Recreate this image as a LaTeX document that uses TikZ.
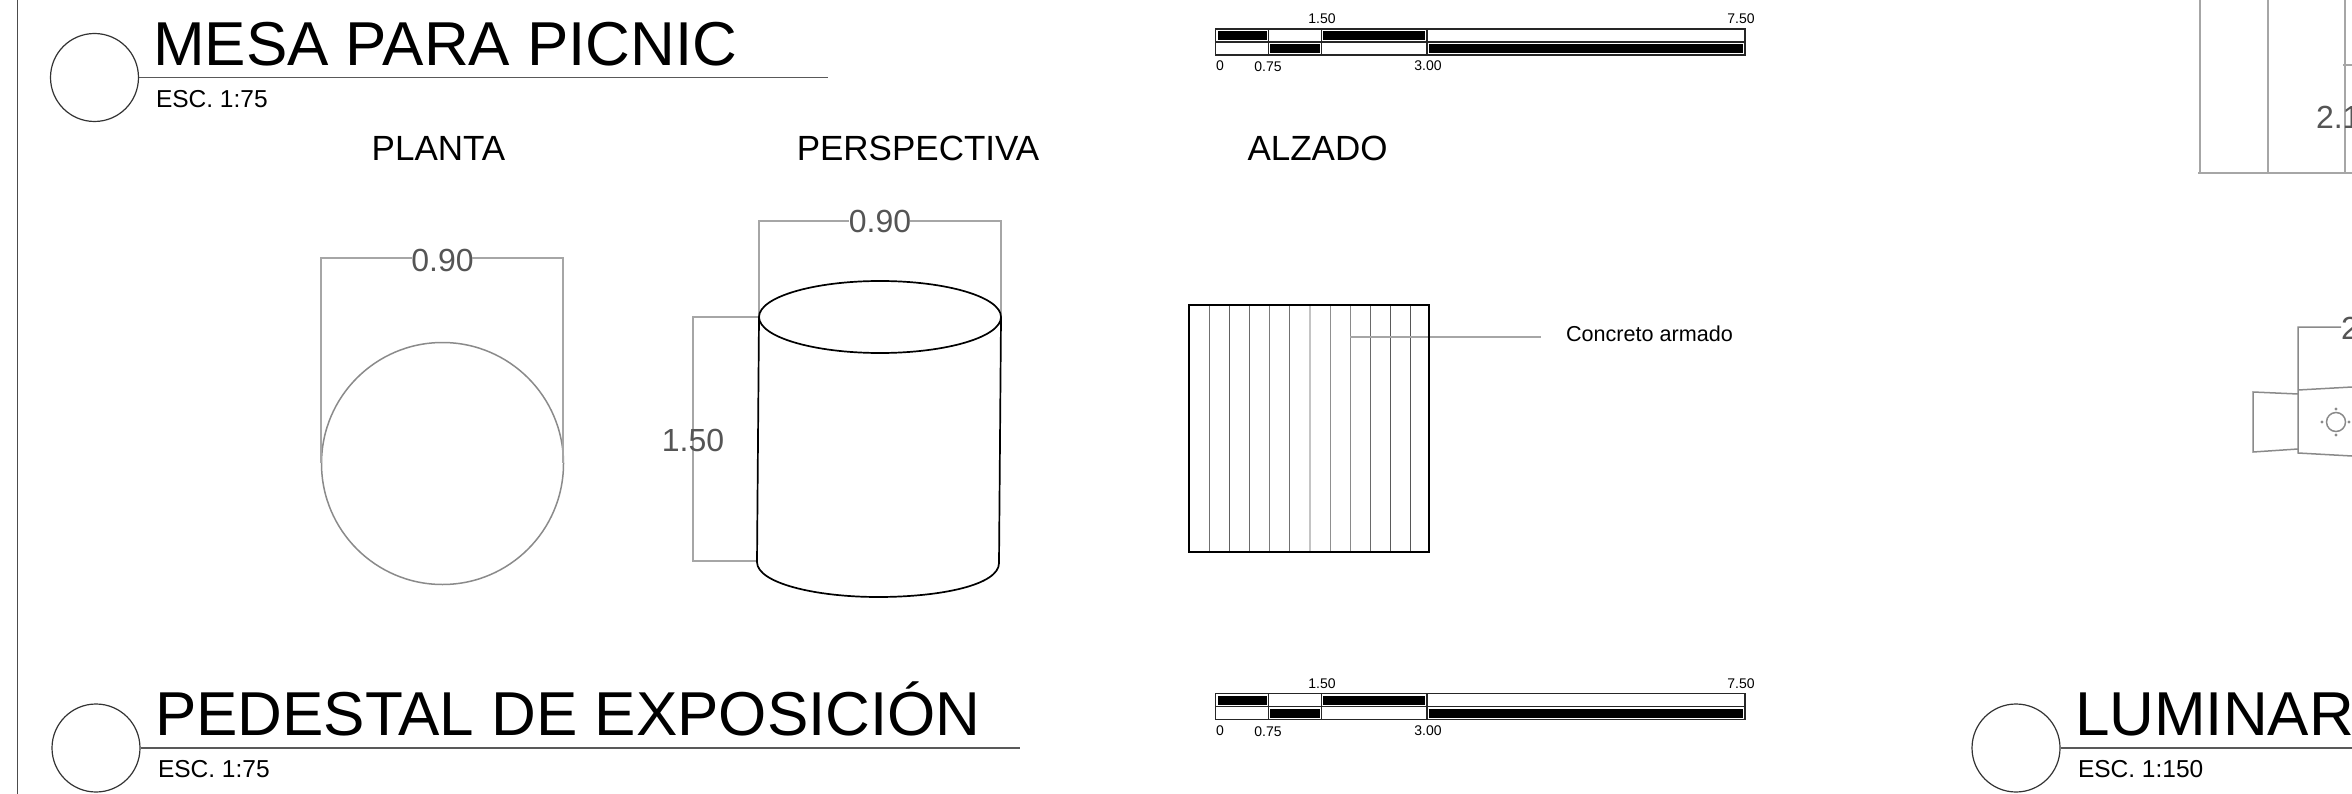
\documentclass[tikz,border=0pt]{standalone}
\usepackage{fontspec}
\setmainfont{Liberation Sans}
\definecolor{dimline}{HTML}{A6A6A6}
\definecolor{dimtext}{HTML}{555555}
\definecolor{planline}{HTML}{8A8A8A}
\newcommand{\fsz}[1]{\fontsize{#1}{#1}\selectfont}
\tikzset{
  x=1pt,y=-1pt,
  txt/.style={inner sep=0pt,outer sep=0pt},
  bigtitle/.style={txt,anchor=base west,font=\fsz{62}},
  esc/.style={txt,anchor=base west,font=\fsz{24.5}},
  subhead/.style={txt,anchor=base,font=\fsz{35}},
  dimlabel/.style={txt,anchor=center,font=\fsz{32},text=dimtext},
  barlabel/.style={txt,anchor=center,font=\fsz{14}},
  dimstroke/.style={draw=dimline,line width=1.5pt},
  plan/.style={draw=planline,line width=1.5pt},
  ink/.style={draw=black,line width=1.7pt},
  rule/.style={draw=black!65,line width=1.3pt},
  bubble/.style={draw=black!80,line width=1.2pt},
}
\newcommand{\scalebar}[2]{%
  \begin{scope}[shift={(#1,#2)}]
    \fill (1217.5,31) rectangle (1267,40);
    \fill (1323,31) rectangle (1425,40);
    \fill (1270,44) rectangle (1319.5,53);
    \fill (1429,44) rectangle (1743,53);
    \draw[black!85,line width=1.1pt] (1215.5,29) rectangle (1745,55);
    \draw[black!85,line width=1.1pt] (1215.5,42) -- (1745,42);
    \foreach \xx in {1268.5,1321.5,1427} \draw[black!85,line width=1.1pt] (\xx,29) -- (\xx,55);
    \node[barlabel] at (1322,19) {1.50};
    \node[barlabel] at (1741,19) {7.50};
    \node[barlabel] at (1220,66) {0};
    \node[barlabel] at (1268,67) {0.75};
    \node[barlabel] at (1428,66) {3.00};
  \end{scope}}
\begin{document}
\begin{tikzpicture}
\useasboundingbox (0,0) rectangle (2352,794);
\clip (0,0) rectangle (2352,794);
% frame
\draw[draw=black!70,line width=1.6pt] (17.5,0) -- (17.5,794);

% ---- MESA PARA PICNIC header
\node[bubble,circle,minimum size=88pt,inner sep=0pt] (c1) at (94.5,77.5) {};
\coordinate (e1) at (828,77.5);
\draw[rule] (c1.east) -- (e1);
\node[bigtitle] (t1) at (153,65.5) {MESA PARA PICNIC};
\node[esc] (s1) at (156,108) {ESC. 1:75};
\node[subhead] (h1) at (438.5,161) {PLANTA};
\node[subhead] (h2) at (918,161) {PERSPECTIVA};
\node[subhead] (h3) at (1317.5,161) {ALZADO};

% ---- planta
\draw[plan] (442.5,463.5) circle (121);
\node[dimlabel] (d1) at (442.5,260) {0.90};
\draw[dimstroke] (321,463) -- (321,258) -- (412,258);
\draw[dimstroke] (472,258) -- (563,258) -- (563,463);

% ---- perspectiva
\node[dimlabel] (d2) at (880,221.5) {0.90};
\draw[dimstroke] (759,317) -- (759,221) -- (849,221);
\draw[dimstroke] (910,221) -- (1001,221) -- (1001,317);
\draw[dimstroke] (759,317) -- (693,317) -- (693,561) -- (757,561);
\node[dimlabel] (d3) at (693,440) {1.50};
\draw[ink] (880,317) ellipse (121 and 36);
\draw[ink] (759,317) -- (757,562) .. controls (757,583) and (815,597) .. (878,597) .. controls (941,597) and (999,585) .. (999,563) -- (1001,317);

% ---- alzado
\foreach \xx/\cc in {1209.5/707070,1229.5/606060,1249.5/6A6A6A,1269.5/7A7A7A,1289.5/707070,1310/C4C4C4,1330.5/909090,1350.5/8A8A8A,1370.5/6A6A6A,1390.5/5A5A5A,1410.5/565656}{
  \definecolor{tmpc}{HTML}{\cc}
  \draw[draw=tmpc,line width=1.8pt] (\xx,305) -- (\xx,552);
}
\draw[draw=dimline,line width=1.5pt] (1350,337) -- (1541,337);
\draw[draw=black,line width=1.6pt] (1189,305) rectangle (1429,552);
\node[txt,anchor=west,font=\fsz{21.6}] (l1) at (1566,334) {Concreto armado};

% ---- scale bars
\scalebar{0}{0}
\scalebar{0}{664.5}

% ---- PEDESTAL header
\node[bubble,circle,minimum size=88pt,inner sep=0pt] (c2) at (96,748) {};
\coordinate (e2) at (1020,748);
\draw[rule] (c2.east) -- (e2);
\node[bigtitle] (t2) at (155,735) {PEDESTAL DE EXPOSICIÓN};
\node[esc] (s2) at (158,777.5) {ESC. 1:75};

% ---- LUMINAR header
\node[bubble,circle,minimum size=88pt,inner sep=0pt] (c3) at (2016,748) {};
\coordinate (e3) at (2352,748);
\draw[rule] (c3.east) -- (e3);
\node[bigtitle] (t3) at (2075,735) {LUMINAR};
\node[esc] (s3) at (2078,777) {ESC. 1:150};

% ---- luminaire top-right
\draw[dimstroke] (2200,0) -- (2200,173);
\draw[dimstroke] (2268,0) -- (2268,173);
\draw[dimstroke] (2198,173) -- (2352,173);
\draw[dimstroke] (2345,0) -- (2345,173);
\draw[dimstroke] (2343,65) -- (2352,65);
\node[txt,anchor=base west,font=\fsz{32},text=dimtext] (d4) at (2316,129) {2.1};

% ---- luminaire detail
\draw[plan] (2341,327) -- (2298,327) -- (2298,453) -- (2352,456);
\draw[plan] (2298,390) -- (2352,387);
\draw[plan] (2298,394) -- (2253,392) -- (2253,452) -- (2298,449);
\draw[plan] (2336,422) circle (9.5);
\foreach \dx/\dy in {2322/422,2349/422,2336/409,2336/435} \fill[planline] (\dx,\dy) circle (1.7);
\node[txt,anchor=base west,font=\fsz{32},text=dimtext] (d5) at (2341,339) {2};
\end{tikzpicture}
\end{document}
